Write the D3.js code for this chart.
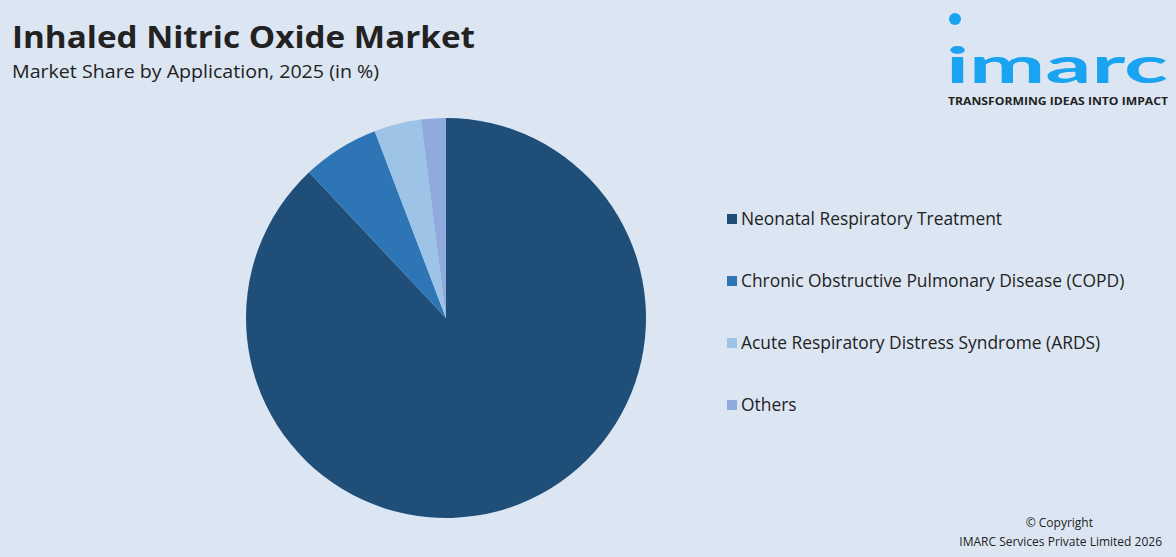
<!DOCTYPE html><html><head><meta charset="utf-8">
<script src="https://cdn.jsdelivr.net/npm/d3@7/dist/d3.min.js"></script>
<style>body{margin:0;background:#dce6f3;}svg{display:block;font-family:"Open Sans",Arial,sans-serif;}</style></head><body>
<svg id="c" width="1176" height="557"></svg>
<script>
const categories=["Neonatal Respiratory Treatment","Chronic Obstructive Pulmonary Disease (COPD)","Acute Respiratory Distress Syndrome (ARDS)","Others"];
const values=[88.0,6.2,3.8,2.0];
const colors=["#1f4e79","#2e75b6","#9dc3e6","#8faadc"];
const svg=d3.select("#c");
svg.append("rect").attr("width",1176).attr("height",557).attr("fill","#dce6f3");
svg.append("text").attr("x",12).attr("y",48).attr("font-size",31).attr("font-weight",700).attr("fill","#222").attr("textLength",463).attr("lengthAdjust","spacingAndGlyphs").text("Inhaled Nitric Oxide Market");
svg.append("text").attr("x",12).attr("y",78).attr("font-size",18).attr("fill","#222").attr("textLength",367).attr("lengthAdjust","spacingAndGlyphs").text("Market Share by Application, 2025 (in %)");
const pie=d3.pie().sort(null).value(d=>d)(values);
const arc=d3.arc().innerRadius(0).outerRadius(200);
const g=svg.append("g").attr("transform","translate(446,318)");
g.selectAll("path").data(pie).enter().append("path").attr("d",arc).attr("fill",(d,i)=>colors[i]);
const lg=svg.selectAll("g.l").data(categories).enter().append("g").attr("transform",(d,i)=>`translate(727,${219+i*62})`);
lg.append("rect").attr("x",0).attr("y",-5).attr("width",10).attr("height",10).attr("fill",(d,i)=>colors[i]);
lg.append("text").attr("x",14).attr("y",6).attr("font-size",17.4).attr("fill","#222").text(d=>d);
// logo
svg.append("circle").attr("cx",955).attr("cy",19).attr("r",6).attr("fill","#1aa3f0");
svg.append("text").attr("x",946).attr("y",83).attr("font-size",50).attr("font-weight",700).attr("fill","#1aa3f0").attr("font-family","Lato,sans-serif").attr("textLength",222).attr("lengthAdjust","spacingAndGlyphs").text("imarc");
svg.append("text").attr("x",948).attr("y",105).attr("font-size",10).attr("font-weight",700).attr("fill","#222").attr("textLength",220).attr("lengthAdjust","spacingAndGlyphs").text("TRANSFORMING IDEAS INTO IMPACT");
svg.append("text").attr("x",1093).attr("y",527).attr("text-anchor","end").attr("font-size",12).attr("fill","#222").text("© Copyright");
svg.append("text").attr("x",1162).attr("y",546).attr("text-anchor","end").attr("font-size",12).attr("fill","#222").text("IMARC Services Private Limited 2026");
</script></body></html>
